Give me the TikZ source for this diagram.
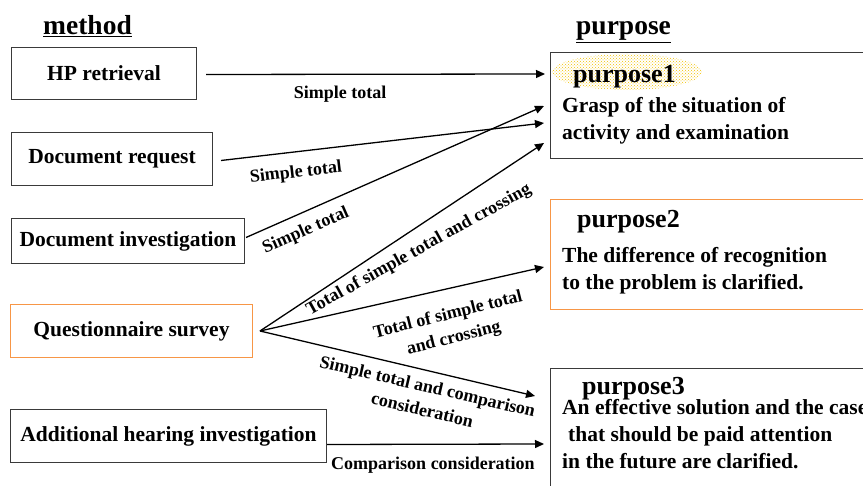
\documentclass[tikz,border=0pt]{standalone}
\usepackage{fontspec}
\setmainfont{Liberation Serif}
\usetikzlibrary{calc,arrows.meta,patterns}
\definecolor{boxgray}{HTML}{3A3A3A}
\definecolor{boxorange}{HTML}{F79646}
\definecolor{hilite}{HTML}{F2C200}
\newcommand{\boxfont}{\bfseries\fontsize{21.5}{27}\selectfont}
\newcommand{\lblfont}{\bfseries\fontsize{18}{24}\selectfont}
\newcommand{\ttlfont}{\bfseries\fontsize{27.5}{30}\selectfont}
\newcommand{\pfont}{\bfseries\fontsize{26}{30}\selectfont}
\begin{document}
\begin{tikzpicture}[x=1pt,y=-1pt,
  box/.style={draw=boxgray, line width=1pt, inner sep=0pt, font=\boxfont},
  obox/.style={box, draw=boxorange},
  lbl/.style={font=\lblfont, inner sep=0pt, align=center},
  arr/.style={line width=1.3pt, -{Triangle[length=9pt,width=8pt]}},
  ln/.style={inner sep=0pt, anchor=base west, font=\boxfont},
  ttl/.style={inner sep=0pt, anchor=base west, font=\ttlfont},
  ptl/.style={inner sep=0pt, anchor=base west, font=\pfont},
]
\useasboundingbox (0,0) rectangle (863,486);
\clip (0,0) rectangle (863,486);

% titles
\node[ttl] (tmethod) at (43,35) {\underline{method}};
\node[ttl] (tpurpose) at (576,35) {\underline{purpose}};

% method boxes
\node[box, minimum width=185, minimum height=52, anchor=north west] (hp) at (11,47) {HP retrieval};
\node[box, minimum width=201, minimum height=53, anchor=north west] (dr) at (11,132) {Document request};
\node[box, minimum width=233, minimum height=45, anchor=north west] (di) at (11,218) {Document investigation};
\node[obox, minimum width=242, minimum height=53, anchor=north west] (qs) at (10,304) {Questionnaire survey};
\node[box, minimum width=316, minimum height=53, anchor=north west] (ah) at (10,409) {Additional hearing investigation};

% purpose boxes
\node[box, minimum width=330, minimum height=106, anchor=north west] (p1) at (550,52) {};
\node[obox, minimum width=330, minimum height=110, anchor=north west] (p2) at (550,199) {};
\node[box, minimum width=330, minimum height=140, anchor=north west] (p3) at (550,368) {};

% highlight behind purpose1
\fill[pattern=crosshatch dots, pattern color=hilite] (627,72) ellipse [x radius=75, y radius=18];

% purpose texts
\node[ptl] (p1t) at (573,83) {purpose1};
\node[ln] (p1a) at (562,113) {Grasp of the situation of};
\node[ln] (p1b) at (562,140) {activity and examination};

\node[ptl] (p2t) at (577,228) {purpose2};
\node[ln] (p2a) at (562,263) {The difference of recognition};
\node[ln] (p2b) at (562,290) {to the problem is clarified.};

\node[ptl] (p3t) at (582,395) {purpose3};
\node[ln] (p3a) at (562,415) {An effective solution and the case};
\node[ln] (p3b) at (568,442) {that should be paid attention};
\node[ln] (p3c) at (562,468) {in the future are clarified.};

% connectors
\coordinate (qa) at ($(qs.east)+(7,0)$);
\draw[arr] ($(hp.east)+(9,1)$) -- ($(p1.north west)+(-5,22)$);
\draw[arr] ($(dr.east)+(8,1.5)$) -- ($(p1.north west)+(-6,71)$);
\draw[arr] ($(di.east)+(1,-3.5)$) -- ($(p1.north west)+(-6,54)$);
\draw[arr] (qa) -- ($(p1.north west)+(-6,91)$);
\draw[arr] (qa) -- ($(p2.north west)+(-6,68)$);
\draw[arr] (qa) -- ($(p3.north west)+(-15,28)$);
\draw[arr] ($(ah.east)+(0,8.5)$) -- ($(p3.north west)+(-6,76)$);

% labels
\node[lbl] (l1) at (340,94) {Simple total};
\node[lbl, rotate=6.6] (l2) at (296,173) {Simple total};
\node[lbl, rotate=23.8] (l3) at (306,231) {Simple total};
\node[lbl, rotate=29] (l4) at (419,250) {Total of simple total and crossing};
\node[lbl, rotate=14] (l5) at (451,327) {Total of simple total\\and crossing};
\node[lbl, rotate=-13] (l6) at (425,398) {Simple total and comparison\\consideration};
\node[lbl] (l7) at (433,465) {Comparison consideration};
\end{tikzpicture}
\end{document}
